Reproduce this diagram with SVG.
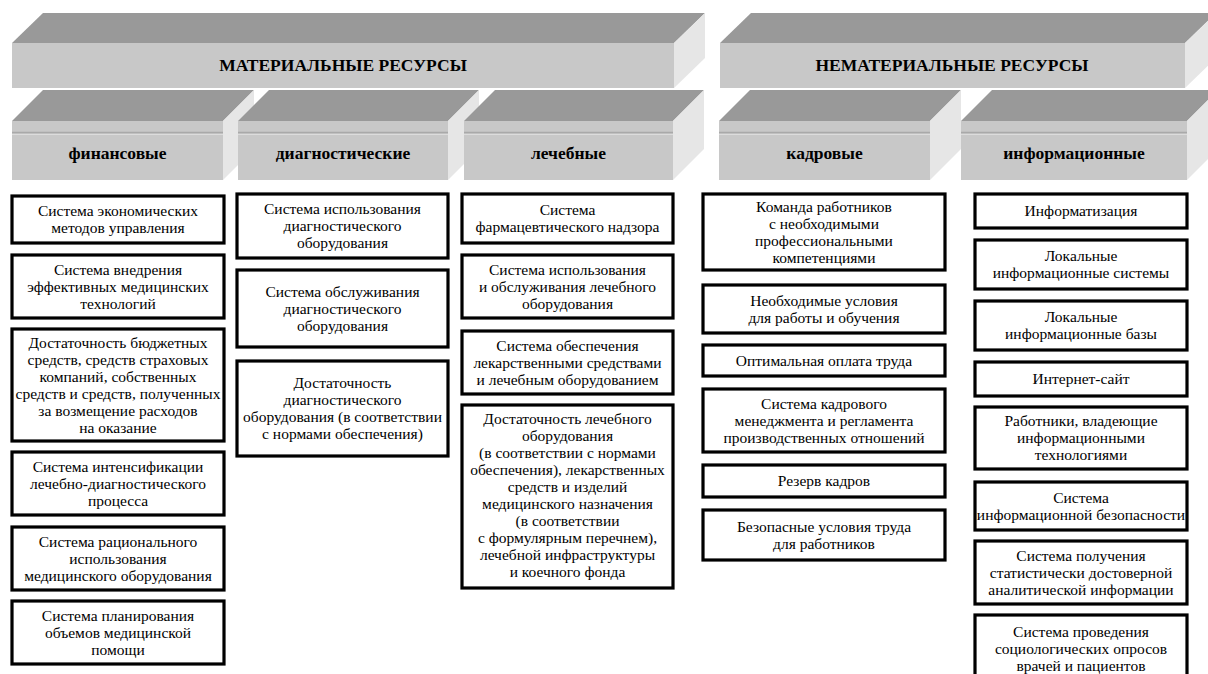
<svg xmlns="http://www.w3.org/2000/svg" width="1208" height="674" viewBox="0 0 1208 674" font-family="Liberation Serif, serif">
<style>
.top{fill:#999999}
.front{fill:#c8c8c8}
.side{fill:#e6e6e6}
.stripe{stroke:#a9a9a9;stroke-width:1.5}
.stripe2{stroke:#dcdcdc;stroke-width:1}
.h1{font-family:'Liberation Serif',serif;font-weight:bold;font-size:17.5px;text-anchor:middle;fill:#000}
.h2{font-family:'Liberation Serif',serif;font-weight:bold;font-size:17.5px;text-anchor:middle;fill:#000}
.box{fill:#fff;stroke:#000;stroke-width:3.2}
.t{font-family:'Liberation Serif',serif;font-size:15.5px;text-anchor:middle;fill:#000}
</style>
<rect width="1208" height="674" fill="#fff"/>

<g id="hdr-material">
<polygon class="top" points="12,43 43,13 705,13 674,43"/>
<polygon class="side" points="674,43 705,13 705,58 674,88"/>
<rect class="front" x="12" y="43" width="662" height="45"/>
<text class="h1" x="343" y="70.5">МАТЕРИАЛЬНЫЕ РЕСУРСЫ</text>
</g>
<g id="hdr-nonmaterial">
<polygon class="top" points="720,43 751,13 1216,13 1185,43"/>
<polygon class="side" points="1185,43 1216,13 1216,58 1185,88"/>
<rect class="front" x="720" y="43" width="465" height="45"/>
<text class="h1" x="952" y="70.5">НЕМАТЕРИАЛЬНЫЕ РЕСУРСЫ</text>
</g>

<g id="cat-fin">
<polygon class="top" points="12,121 43,90 254,90 223,121"/>
<polygon class="side" points="223,121 254,90 254,149 223,180"/>
<rect class="front" x="12" y="121" width="211" height="59"/>
<line class="stripe" x1="12" y1="132.5" x2="223" y2="132.5"/><line class="stripe2" x1="12" y1="134.5" x2="223" y2="134.5"/>
<text class="h2" x="117.5" y="158.5">финансовые</text>
</g>
<g id="cat-diag">
<polygon class="top" points="238,121 269,90 479,90 448,121"/>
<polygon class="side" points="448,121 479,90 479,149 448,180"/>
<rect class="front" x="238" y="121" width="210" height="59"/>
<line class="stripe" x1="238" y1="132.5" x2="448" y2="132.5"/><line class="stripe2" x1="238" y1="134.5" x2="448" y2="134.5"/>
<text class="h2" x="343" y="158.5">диагностические</text>
</g>
<g id="cat-lech">
<polygon class="top" points="464,121 495,90 704,90 673,121"/>
<polygon class="side" points="673,121 704,90 704,149 673,180"/>
<rect class="front" x="464" y="121" width="209" height="59"/>
<line class="stripe" x1="464" y1="132.5" x2="673" y2="132.5"/><line class="stripe2" x1="464" y1="134.5" x2="673" y2="134.5"/>
<text class="h2" x="568.5" y="158.5">лечебные</text>
</g>
<g id="cat-kadr">
<polygon class="top" points="719,121 750,90 961,90 930,121"/>
<polygon class="side" points="930,121 961,90 961,149 930,180"/>
<rect class="front" x="719" y="121" width="211" height="59"/>
<line class="stripe" x1="719" y1="132.5" x2="930" y2="132.5"/><line class="stripe2" x1="719" y1="134.5" x2="930" y2="134.5"/>
<text class="h2" x="824.5" y="158.5">кадровые</text>
</g>
<g id="cat-info">
<polygon class="top" points="961,121 992,90 1218,90 1187,121"/>
<polygon class="side" points="1187,121 1218,90 1218,149 1187,180"/>
<rect class="front" x="961" y="121" width="226" height="59"/>
<line class="stripe" x1="961" y1="132.5" x2="1187" y2="132.5"/><line class="stripe2" x1="961" y1="134.5" x2="1187" y2="134.5"/>
<text class="h2" x="1074" y="158.5">информационные</text>
</g>

<g id="c1">
<g id="c1-1"><rect class="box" x="12" y="196" width="212" height="47"/>
<text class="t"><tspan x="118" y="216">Система экономических</tspan><tspan x="118" y="233">методов управления</tspan></text></g>
<g id="c1-2"><rect class="box" x="12" y="255" width="212" height="63"/>
<text class="t"><tspan x="118" y="274.5">Система внедрения</tspan><tspan x="118" y="291.5">эффективных медицинских</tspan><tspan x="118" y="308.5">технологий</tspan></text></g>
<g id="c1-3"><rect class="box" x="12" y="329" width="212" height="112"/>
<text class="t"><tspan x="118" y="348">Достаточность бюджетных</tspan><tspan x="118" y="365">средств, средств страховых</tspan><tspan x="118" y="382">компаний, собственных</tspan><tspan x="118" y="399">средств и средств, полученных</tspan><tspan x="118" y="416">за возмещение расходов</tspan><tspan x="118" y="433">на оказание</tspan></text></g>
<g id="c1-4"><rect class="box" x="12" y="452" width="212" height="63"/>
<text class="t"><tspan x="118" y="471.5">Система интенсификации</tspan><tspan x="118" y="488.5">лечебно-диагностического</tspan><tspan x="118" y="505.5">процесса</tspan></text></g>
<g id="c1-5"><rect class="box" x="12" y="527" width="212" height="63"/>
<text class="t"><tspan x="118" y="546.5">Система рационального</tspan><tspan x="118" y="563.5">использования</tspan><tspan x="118" y="580.5">медицинского оборудования</tspan></text></g>
<g id="c1-6"><rect class="box" x="12" y="601" width="212" height="63"/>
<text class="t"><tspan x="118" y="620.5">Система планирования</tspan><tspan x="118" y="637.5">объемов медицинской</tspan><tspan x="118" y="654.5">помощи</tspan></text></g>
</g>

<g id="c2">
<g id="c2-1"><rect class="box" x="237" y="194" width="211" height="64"/>
<text class="t"><tspan x="342.5" y="214">Система использования</tspan><tspan x="342.5" y="231">диагностического</tspan><tspan x="342.5" y="248">оборудования</tspan></text></g>
<g id="c2-2"><rect class="box" x="237" y="270" width="211" height="77"/>
<text class="t"><tspan x="342.5" y="296.5">Система обслуживания</tspan><tspan x="342.5" y="313.5">диагностического</tspan><tspan x="342.5" y="330.5">оборудования</tspan></text></g>
<g id="c2-3"><rect class="box" x="237" y="361" width="211" height="95"/>
<text class="t"><tspan x="342.5" y="388">Достаточность</tspan><tspan x="342.5" y="405">диагностического</tspan><tspan x="342.5" y="422">оборудования (в соответствии</tspan><tspan x="342.5" y="439">с нормами обеспечения)</tspan></text></g>
</g>

<g id="c3">
<g id="c3-1"><rect class="box" x="462" y="194" width="211" height="49"/>
<text class="t"><tspan x="567.5" y="215">Система</tspan><tspan x="567.5" y="232">фармацевтического надзора</tspan></text></g>
<g id="c3-2"><rect class="box" x="462" y="255" width="211" height="63"/>
<text class="t"><tspan x="567.5" y="274.5">Система использования</tspan><tspan x="567.5" y="291.5">и обслуживания лечебного</tspan><tspan x="567.5" y="308.5">оборудования</tspan></text></g>
<g id="c3-3"><rect class="box" x="462" y="331" width="211" height="63"/>
<text class="t"><tspan x="567.5" y="350.5">Система обеспечения</tspan><tspan x="567.5" y="367.5">лекарственными средствами</tspan><tspan x="567.5" y="384.5">и лечебным оборудованием</tspan></text></g>
<g id="c3-4"><rect class="box" x="462" y="405" width="211" height="183"/>
<text class="t"><tspan x="567.5" y="424">Достаточность лечебного</tspan><tspan x="567.5" y="441">оборудования</tspan><tspan x="567.5" y="458">(в соответствии с нормами</tspan><tspan x="567.5" y="475">обеспечения), лекарственных</tspan><tspan x="567.5" y="492">средств и изделий</tspan><tspan x="567.5" y="509">медицинского назначения</tspan><tspan x="567.5" y="526">(в соответствии</tspan><tspan x="567.5" y="543">с формулярным перечнем),</tspan><tspan x="567.5" y="560">лечебной инфраструктуры</tspan><tspan x="567.5" y="577">и коечного фонда</tspan></text></g>
</g>

<g id="c4">
<g id="c4-1"><rect class="box" x="703" y="194" width="242" height="76"/>
<text class="t"><tspan x="824" y="211.5">Команда работников</tspan><tspan x="824" y="228.5">с необходимыми</tspan><tspan x="824" y="245.5">профессиональными</tspan><tspan x="824" y="262.5">компетенциями</tspan></text></g>
<g id="c4-2"><rect class="box" x="703" y="285" width="242" height="48"/>
<text class="t"><tspan x="824" y="305.5">Необходимые условия</tspan><tspan x="824" y="322.5">для работы и обучения</tspan></text></g>
<g id="c4-3"><rect class="box" x="703" y="345" width="242" height="31"/>
<text class="t"><tspan x="824" y="365.5">Оптимальная оплата труда</tspan></text></g>
<g id="c4-4"><rect class="box" x="703" y="389" width="242" height="63"/>
<text class="t"><tspan x="824" y="408.5">Система кадрового</tspan><tspan x="824" y="425.5">менеджмента и регламента</tspan><tspan x="824" y="442.5">производственных отношений</tspan></text></g>
<g id="c4-5"><rect class="box" x="703" y="465" width="242" height="32"/>
<text class="t"><tspan x="824" y="486">Резерв кадров</tspan></text></g>
<g id="c4-6"><rect class="box" x="703" y="510" width="242" height="50"/>
<text class="t"><tspan x="824" y="531.5">Безопасные условия труда</tspan><tspan x="824" y="548.5">для работников</tspan></text></g>
</g>

<g id="c5">
<g id="c5-1"><rect class="box" x="975" y="194" width="212" height="34"/>
<text class="t"><tspan x="1081" y="216">Информатизация</tspan></text></g>
<g id="c5-2"><rect class="box" x="975" y="240" width="212" height="49"/>
<text class="t"><tspan x="1081" y="261">Локальные</tspan><tspan x="1081" y="278">информационные системы</tspan></text></g>
<g id="c5-3"><rect class="box" x="975" y="301" width="212" height="49"/>
<text class="t"><tspan x="1081" y="322">Локальные</tspan><tspan x="1081" y="339">информационные базы</tspan></text></g>
<g id="c5-4"><rect class="box" x="975" y="362" width="212" height="34"/>
<text class="t"><tspan x="1081" y="384">Интернет-сайт</tspan></text></g>
<g id="c5-5"><rect class="box" x="975" y="407" width="212" height="62"/>
<text class="t"><tspan x="1081" y="426">Работники, владеющие</tspan><tspan x="1081" y="443">информационными</tspan><tspan x="1081" y="460">технологиями</tspan></text></g>
<g id="c5-6"><rect class="box" x="975" y="482" width="212" height="48"/>
<text class="t"><tspan x="1081" y="502.5">Система</tspan><tspan x="1081" y="519.5">информационной безопасности</tspan></text></g>
<g id="c5-7"><rect class="box" x="975" y="541" width="212" height="63"/>
<text class="t"><tspan x="1081" y="560.5">Система получения</tspan><tspan x="1081" y="577.5">статистически достоверной</tspan><tspan x="1081" y="594.5">аналитической информации</tspan></text></g>
<g id="c5-8"><rect class="box" x="975" y="615" width="212" height="68"/>
<text class="t"><tspan x="1081" y="637">Система проведения</tspan><tspan x="1081" y="654">социологических опросов</tspan><tspan x="1081" y="671">врачей и пациентов</tspan></text></g>
</g>
</svg>
